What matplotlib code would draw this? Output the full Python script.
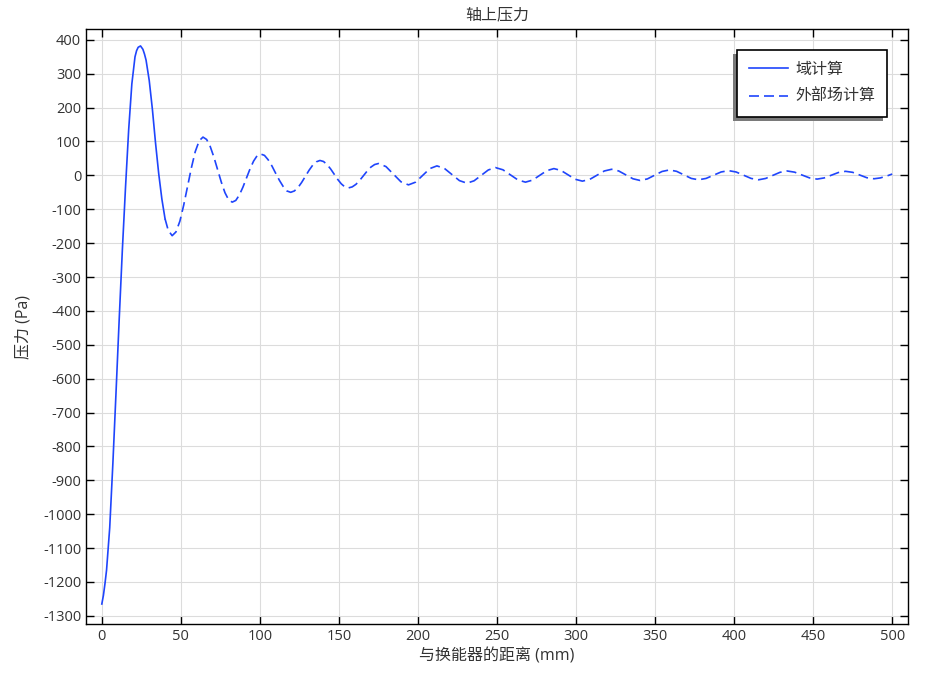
import matplotlib
matplotlib.use("Agg")
import matplotlib.pyplot as plt
from matplotlib.patches import Rectangle

plt.rcParams['font.family'] = ['Open Sans', 'Noto Sans CJK SC', 'DejaVu Sans']
plt.rcParams['axes.unicode_minus'] = False

# near field (solid): distance mm, pressure Pa
x_domain = [0, 1, 2, 3, 5, 7, 9, 11, 13, 15, 17, 19, 21, 22, 23, 24.5, 26, 27, 28, 30, 32, 34, 36, 38, 40]
p_domain = [-1265, -1240, -1205, -1165, -1040, -850, -640, -425, -220, -35, 135, 270, 350, 368, 378, 382,
            372, 358, 340, 280, 195, 95, 5, -70, -128]

# far field (dashed)
x_ext = [40, 42, 44.5, 46.9, 49.4, 51.8, 54.25, 56.7, 59.1, 61.6, 64,
         66.3, 68.6, 70.9, 73.25, 75.6, 77.9, 80.2, 82.5,
         84.75, 87, 89.25, 91.5, 93.75, 96, 98.25, 100.5,
         102.9, 105.25, 107.6, 110, 112.4, 114.75, 117.1, 119.5,
         121.8, 124.1, 126.4, 128.75, 131.1, 133.4, 135.7, 138,
         140.25, 142.5, 144.75, 147, 149.25, 151.5, 153.75, 156,
         158.4, 160.75, 163.1, 165.5, 167.9, 170.25, 172.6, 175,
         179.75, 184.5, 189.25, 194, 198.5, 203, 207.5, 212,
         216.75, 221.5, 226.25, 231, 235.5, 240, 244.5, 249, 253.75, 258.5, 263.25, 268,
         272.5, 277, 281.5, 286, 290.5, 295, 299.5, 304, 308.6, 313.25, 317.9, 322.5,
         327, 331.5, 336, 340.5, 345.1, 349.75, 354.4, 359, 363.6, 368.25, 372.9, 377.5,
         382.25, 387, 391.75, 396.5, 401.25, 406, 410.75, 415.5, 420, 424.5, 429, 433.5,
         438.25, 443, 447.75, 452.5, 457, 461.5, 466, 470.5, 475, 479.5, 484, 488.5,
         492.5, 496.5, 500]
p_ext = [-128, -162, -178, -167, -135, -88, -32, 23, 70, 102, 113,
         106, 85, 54, 17, -20, -51, -72, -79,
         -74, -58, -35, -8, 19, 42, 58, 63,
         59, 46, 28, 6, -15, -33, -46, -50,
         -46, -36, -21, -3, 15, 30, 40, 44,
         41, 32, 19, 3.5, -12, -25, -34, -37,
         -34, -26.5, -15, -1, 13, 24.5, 32, 35,
         26, 3.5, -19, -28, -20, 0, 20, 28,
         20.5, 2.5, -15.5, -23, -16, 0, 16, 23, 16.5, 1.5, -13.5, -20,
         -14, 0, 14, 20, 14.5, 1.5, -11.5, -17, -12, 0.5, 13, 18,
         13, 1.5, -10, -15, -10.5, 0.5, 11.5, 16, 12, 1.5, -9, -13,
         -9, 0.5, 10, 14, 10, 0.5, -9, -13, -9, 0, 9, 13,
         9.5, 1, -7.5, -11, -7.5, 0.5, 8.5, 12, 9, 1, -7, -10,
         -7.5, -2, 4]

blue = '#1f45fc'
txt = '#333333'

fig = plt.figure(figsize=(9.33, 6.76), dpi=100)
ax = fig.add_axes([86/933, 1-624/676, (908-86)/933, (624-29)/676])

ax.plot(x_domain, p_domain, color=blue, lw=1.2, label='域计算')
ax.plot(x_ext, p_ext, color=blue, lw=1.2, dashes=(6, 3), label='外部场计算')

ax.set_xlim(-10, 510)
ax.set_ylim(-1324, 432)
ax.set_xticks(range(0, 501, 50))
ax.set_yticks(range(-1300, 401, 100))
ax.grid(True, color='#dcdcdc', lw=0.8)
ax.set_axisbelow(True)
ax.tick_params(direction='in', top=True, right=True, length=6, width=1, labelsize=10.5, colors='black')
for lab in ax.get_xticklabels() + ax.get_yticklabels():
    lab.set_color(txt)
for s in ax.spines.values():
    s.set_linewidth(1.0)

ax.set_title('轴上压力', fontsize=11.5, color=txt, pad=7)
ax.set_xlabel('与换能器的距离 (mm)', fontsize=11.5, color=txt, labelpad=3)
ax.set_ylabel('压力 (Pa)', fontsize=11.5, color=txt, labelpad=8)

leg = ax.legend(loc='upper right', fontsize=11.5, frameon=True, fancybox=False,
                edgecolor='black', framealpha=1, borderaxespad=1.3,
                handlelength=2.45, handletextpad=0.45, borderpad=0.75, labelspacing=0.72)
leg.get_frame().set_linewidth(1.2)
leg.set_zorder(6)
for t in leg.get_texts():
    t.set_color(txt)

fig.canvas.draw()
bb = leg.get_window_extent()
shadow = Rectangle((bb.x0 - 4, bb.y0 - 4), bb.width, bb.height, transform=None,
                   facecolor='#7a7a7a', edgecolor='none', zorder=5.5)
ax.add_artist(shadow)

fig.savefig('out.png', dpi=100)
